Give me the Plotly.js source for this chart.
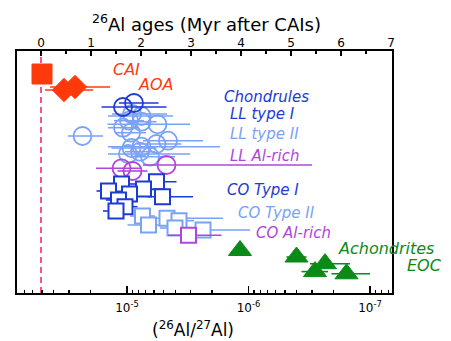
<!DOCTYPE html>
<html>
<head>
<meta charset="utf-8">
<script src="https://cdn.plot.ly/plotly-3.0.1.min.js"></script>
<style>html,body{margin:0;padding:0;background:#fff;}#chart{width:451px;height:341px;}</style>
</head>
<body>
<div id="chart"></div>
<script>
// ---- data (ages in Myr after CAIs; rows = vertical stacking position) ----
const caiAge = [0.02];
const caiRow = [74];

const aoaAge = [0.46, 0.68];
const aoaRow = [90, 87];
const aoaErrMinus = [0.38, 0.5];
const aoaErrPlus = [0.58, 0.7];

const llIAge = [1.64, 1.86];
const llIRow = [107, 103];
const llIErrMinus = [0.43, 0.3];
const llIErrPlus = [0.87, 0.49];

const llIIAge = [1.82, 2.01, 1.76, 2.01, 2.33, 1.80, 1.64, 0.83, 2.54, 2.31, 2.01, 1.81, 1.74, 2.18, 1.98];
const llIIRow = [114, 116, 120.7, 121.7, 124.3, 132.7, 127.7, 136, 140.7, 144, 146.7, 148, 154, 156.7, 151.7];
const llIIErrMinus = [0.4, 0.67, 0.3, 0.3, 1.0, 0.3, 0.3, 0.29, 0.5, 0.4, 0.67, 0.4, 0.4, 0.3, 0.3];
const llIIErrPlus = [0.7, 0.63, 0.3, 0.3, 0.65, 0.3, 0.3, 0.41, 0.7, 0.5, 1.57, 0.5, 1.24, 0.5, 0.3];

const llAlAge = [1.61, 1.83, 2.51];
const llAlRow = [168.3, 171, 165];
const llAlErrMinus = [0.51, 0.3, 0.47];
const llAlErrPlus = [0.4, 0.3, 2.91];

const coIAge = [1.61, 2.31, 1.35, 2.05, 1.77, 2.43, 1.55, 1.68, 1.50];
const coIRow = [184, 181.7, 191, 189, 194, 196.7, 200, 206.7, 211];
const coIErrMinus = [0.3, 0.3, 0.24, 0.25, 0.25, 0.3, 0.25, 0.25, 0.26];
const coIErrPlus = [0.3, 0.4, 0.3, 0.25, 0.25, 0.61, 0.25, 0.25, 0.3];

const coIIAge = [2.03, 2.15, 2.52, 2.76, 2.68, 3.24];
const coIIRow = [216, 225, 218.3, 220.7, 228, 230];
const coIIErrMinus = [0.25, 0.42, 0.3, 0.3, 0.3, 0.3];
const coIIErrPlus = [0.25, 0.3, 1.12, 0.3, 0.3, 0.94];

const coAlAge = [2.95];
const coAlRow = [235.3];
const coAlErrMinus = [0.41];
const coAlErrPlus = [0.66];

const achAge = [3.98, 5.11, 5.68, 5.48, 6.11];
const achRow = [250.5, 257, 263.7, 271.6, 273.8];
const achErrMinus = [0.1, 0.2, 0.3, 0.27, 0.3];
const achErrPlus = [0.1, 0.2, 0.5, 0.26, 0.47];

// axis ticks
const ageTicks = [0, 1, 2, 3, 4, 5, 6, 7];
const ageMinorTicks = [0.5, 1.5, 2.5, 3.5, 4.5, 5.5, 6.5];
const ratioTicks = [1e-5, 1e-6, 1e-7];
const ratioTickText = ['10<sup>-5</sup>', '10<sup>-6</sup>', '10<sup>-7</sup>'];
const ratioMinorTicks = [7e-5, 6e-5, 5e-5, 4e-5, 3e-5, 2e-5,
  9e-6, 8e-6, 7e-6, 6e-6, 5e-6, 4e-6, 3e-6, 2e-6,
  9e-7, 8e-7, 7e-7, 6e-7, 5e-7, 4e-7, 3e-7, 2e-7,
  9e-8, 8e-8, 7e-8];

// ---- styles ----
const RED = '#fe3a0c', DBLUE = '#1c3ad4', LBLUE = '#7aa2f6', PURPLE = '#b046dc', GREEN = '#0b8a18', PINK = '#ff4f8f';
const FONT = 'DejaVu Sans';

function err(minus, plus, color) {
  return {type: 'data', symmetric: false, array: plus, arrayminus: minus, color: color, thickness: 1.6, width: 0};
}
function tr(x, y, em, ep, symbol, size, fill, color, lw) {
  const t = {
    type: 'scatter', mode: 'markers', x: x, y: y, xaxis: 'x2', yaxis: 'y',
    marker: {symbol: symbol, size: size, color: fill, line: {color: color, width: lw}},
    hoverinfo: 'skip', showlegend: false, cliponaxis: false
  };
  if (em) t.error_x = err(em, ep, color);
  return t;
}

const data = [
  // dummy trace so the bottom log axis exists
  {type: 'scatter', mode: 'markers', x: [1e-5], y: [60], xaxis: 'x', yaxis: 'y',
   marker: {opacity: 0}, hoverinfo: 'skip', showlegend: false},
  tr(caiAge, caiRow, null, null, 'square', 20, RED, RED, 1),
  tr(aoaAge, aoaRow, aoaErrMinus, aoaErrPlus, 'diamond', 18, RED, RED, 1),
  tr(llIIAge, llIIRow, llIIErrMinus, llIIErrPlus, 'circle', 18, 'rgba(0,0,0,0)', LBLUE, 1.8),
  tr(llIAge, llIRow, llIErrMinus, llIErrPlus, 'circle', 18, 'rgba(0,0,0,0)', DBLUE, 1.8),
  tr(llAlAge, llAlRow, llAlErrMinus, llAlErrPlus, 'circle', 18, 'rgba(0,0,0,0)', PURPLE, 1.8),
  tr(coIAge, coIRow, coIErrMinus, coIErrPlus, 'square', 15, '#ffffff', DBLUE, 2),
  tr(coIIAge, coIIRow, coIIErrMinus, coIIErrPlus, 'square', 15, '#ffffff', LBLUE, 2),
  tr(coAlAge, coAlRow, coAlErrMinus, coAlErrPlus, 'square', 15, '#ffffff', PURPLE, 2),
  tr(achAge, achRow, achErrMinus, achErrPlus, 'triangle-up', 20, GREEN, GREEN, 1)
];

// label helper: pixel -> paper
const L = 17, R = 392, T = 51, B = 293;
function px(x) { return (x - L) / (R - L); }
function py(y) { return (B - y) / (B - T); }
function lab(text, x, y, color, size) {
  return {text: '<i>' + text + '</i>', xref: 'paper', yref: 'paper', x: px(x), y: py(y),
          xanchor: 'left', yanchor: 'middle', showarrow: false,
          font: {family: FONT, size: size || 15, color: color}};
}

const layout = {
  width: 451, height: 341,
  margin: {l: L, r: 451 - R, t: T, b: 341 - B, pad: 0},
  paper_bgcolor: '#ffffff', plot_bgcolor: '#ffffff',
  font: {family: FONT, color: '#000'},
  showlegend: false,
  xaxis: {
    type: 'log', range: [-4.0947, -7.1811], autorange: false,
    tickmode: 'array', tickvals: ratioTicks, ticktext: ratioTickText,
    ticks: 'inside', ticklen: 7, tickwidth: 1.5, tickcolor: '#000',
    minor: {tickmode: 'array', tickvals: ratioMinorTicks, ticks: 'inside', ticklen: 3, tickwidth: 1.2, tickcolor: '#000'},
    tickfont: {family: FONT, size: 12, color: '#000'},
    ticklabelstandoff: 3,
    showline: true, linewidth: 2, linecolor: '#000', mirror: false,
    showgrid: false, zeroline: false
  },
  xaxis2: {
    overlaying: 'x', side: 'top', anchor: 'y',
    range: [-0.48, 7.02], autorange: false,
    tickmode: 'array', tickvals: ageTicks,
    ticks: 'inside', ticklen: 5, tickwidth: 1.5, tickcolor: '#000',
    minor: {tickmode: 'array', tickvals: ageMinorTicks, ticks: 'inside', ticklen: 3, tickwidth: 1.2, tickcolor: '#000'},
    tickfont: {family: FONT, size: 12, color: '#000'},
    ticklabelstandoff: -3,
    showline: true, linewidth: 2, linecolor: '#000',
    showgrid: false, zeroline: false
  },
  yaxis: {
    range: [B, T], autorange: false,
    showticklabels: false, ticks: '',
    showline: true, linewidth: 2, linecolor: '#000', mirror: true,
    showgrid: false, zeroline: false
  },
  shapes: [
    {type: 'line', xref: 'x2', yref: 'paper', x0: 0, x1: 0, y0: 0, y1: 1,
     line: {color: PINK, width: 2, dash: '6px,4px'}, layer: 'below'}
  ],
  annotations: [
    {text: '<sup>26</sup>Al ages (Myr after CAIs)', xref: 'paper', yref: 'paper', x: 0.504, y: py(23),
     xanchor: 'center', yanchor: 'middle', showarrow: false, font: {family: FONT, size: 18, color: '#000'}},
    {text: '(<sup>26</sup>Al/<sup>27</sup>Al)', xref: 'paper', yref: 'paper', x: px(193), y: py(329),
     xanchor: 'center', yanchor: 'middle', showarrow: false, font: {family: FONT, size: 17, color: '#000'}},
    lab('CAI', 111, 70, RED, 16),
    lab('AOA', 136, 84.5, RED, 16),
    lab('Chondrules', 222, 97, DBLUE),
    lab('LL type I', 228, 113.5, DBLUE),
    lab('LL type II', 228, 133.5, LBLUE),
    lab('LL Al-rich', 228, 156, PURPLE),
    lab('CO Type I', 225, 190, DBLUE),
    lab('CO Type II', 236, 213.5, LBLUE),
    lab('CO Al-rich', 254, 232.5, PURPLE),
    lab('Achondrites', 336, 249, GREEN, 16),
    lab('EOC', 405, 265.5, GREEN, 16)
  ]
};

Plotly.newPlot('chart', data, layout, {staticPlot: true, displayModeBar: false});
</script>
</body>
</html>
